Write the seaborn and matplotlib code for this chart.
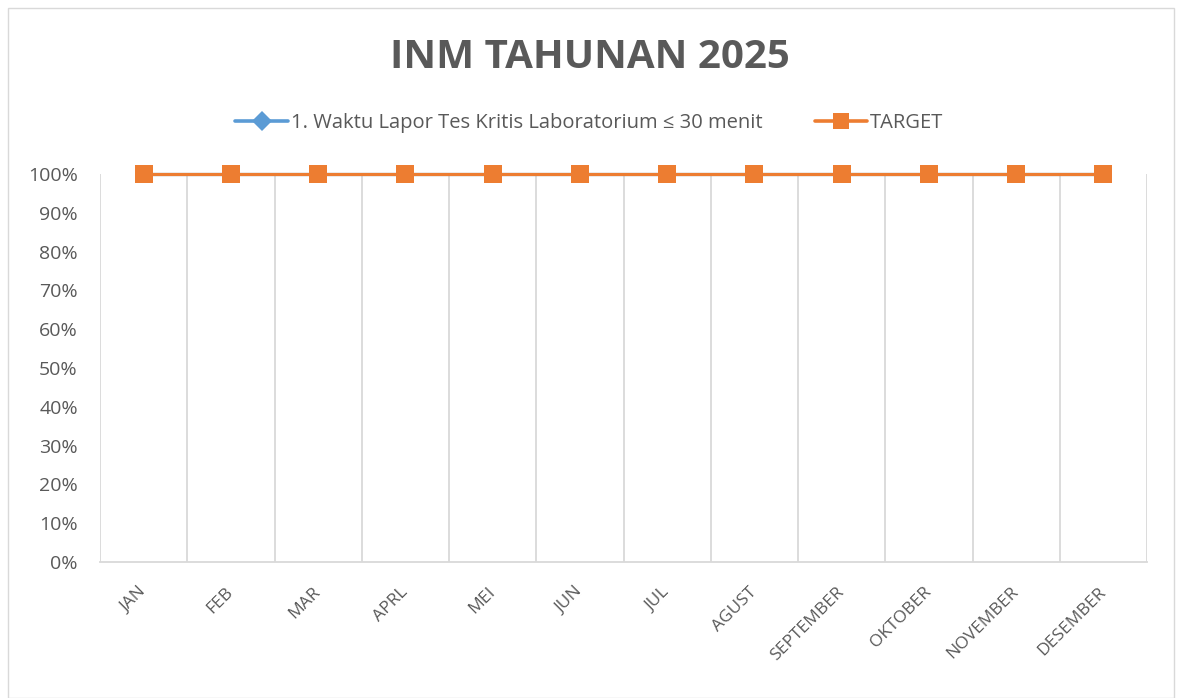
import matplotlib
matplotlib.use("Agg")
import matplotlib.pyplot as plt
import seaborn as sns
import pandas as pd
import numpy as np
from matplotlib.ticker import FixedLocator, PercentFormatter
from matplotlib.patches import Rectangle
from matplotlib.lines import Line2D

months = ["JAN", "FEB", "MAR", "APRL", "MEI", "JUN", "JUL", "AGUST",
          "SEPTEMBER", "OKTOBER", "NOVEMBER", "DESEMBER"]
waktu_lapor = [1.0] * 12
target = [1.0] * 12
series_names = ["1. Waktu Lapor Tes Kritis Laboratorium \u2264 30 menit", "TARGET"]
yticks = [0, 0.1, 0.2, 0.3, 0.4, 0.5, 0.6, 0.7, 0.8, 0.9, 1.0]

sns.set_theme(style="white")
plt.rcParams['font.family'] = ['Open Sans', 'DejaVu Sans']

BLUE = "#5B9BD5"
ORANGE = "#ED7D31"
GREY = "#595959"

df = pd.DataFrame({
    "pos": list(range(len(months))) * 2,
    "value": waktu_lapor + target,
    "series": [series_names[0]] * 12 + [series_names[1]] * 12,
})

fig = plt.figure(figsize=(11.79, 6.98), dpi=100)
ax = fig.add_axes([100/1179, 1 - 562/698, (1147-100)/1179, (562-174)/698])

# figure border
fig.patches.append(Rectangle((8/1179, 0.0), (1174-8)/1179, (698-8)/698,
                             transform=fig.transFigure, fill=False,
                             edgecolor="#D9D9D9", linewidth=1.0))

sns.lineplot(data=df, x="pos", y="value", hue="series", style="series",
             palette={series_names[0]: BLUE, series_names[1]: ORANGE},
             markers={series_names[0]: "D", series_names[1]: "s"},
             dashes=False, markersize=12.5, linewidth=2.3,
             markeredgewidth=0, ax=ax, legend=False)
for ln in ax.lines:
    ln.set_clip_on(False)
    ln.set_zorder(4)
# blue diamonds are smaller and hidden beneath the orange squares
ax.lines[0].set_markersize(9)

ax.set_xlim(-0.5, 11.5)
ax.set_ylim(0, 1.0)
ax.set_xticks(range(len(months)))
ax.set_xticklabels(months, rotation=45, ha="right", va="center",
                   rotation_mode="anchor", fontsize=12.5, color=GREY)
ax.xaxis.set_minor_locator(FixedLocator(np.arange(-0.5, 12, 1)))
ax.grid(which="minor", axis="x", color="#D9D9D9", linewidth=1.3)
ax.grid(which="major", visible=False)
ax.set_yticks(yticks)
ax.yaxis.set_major_formatter(PercentFormatter(1.0, decimals=0))
ax.tick_params(axis="y", labelsize=14, colors=GREY, length=0, pad=16)
ax.tick_params(axis="x", length=0, pad=20)
ax.tick_params(which="minor", length=0)
ax.set_xlabel("")
ax.set_ylabel("")
for s in ["top", "right", "left"]:
    ax.spines[s].set_visible(False)
ax.spines["bottom"].set_color("#D9D9D9")
ax.spines["bottom"].set_linewidth(1.3)

fig.text(0.5, 1 - 57/698, "INM TAHUNAN 2025", ha="center", va="center",
         fontsize=29, fontweight="bold", color=GREY)

handles = [
    Line2D([], [], color=BLUE, marker="D", markersize=10, linewidth=2.6, markeredgewidth=0),
    Line2D([], [], color=ORANGE, marker="s", markersize=11, linewidth=2.6, markeredgewidth=0),
]
fig.legend(handles, series_names, loc="center", bbox_to_anchor=(0.5, 1 - 123/698),
           ncol=2, frameon=False, fontsize=14.5, handlelength=2.6,
           columnspacing=2.6, handletextpad=0.15, labelcolor=GREY)

fig.savefig("out.png", dpi=100)
